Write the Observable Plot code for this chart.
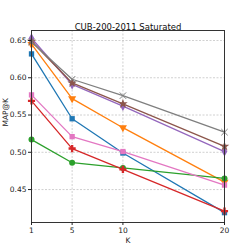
<!DOCTYPE html>
<html>
<head>
<meta charset="utf-8">
<script src="https://cdn.jsdelivr.net/npm/d3@7"></script>
<script src="https://cdn.jsdelivr.net/npm/@observablehq/plot@0.6"></script>
<style>
  html, body { margin: 0; padding: 0; background: #fff; }
  svg { font-family: "DejaVu Sans", sans-serif; }
</style>
</head>
<body>
<div id="chart"></div>
<script>
const title = "CUB-200-2011 Saturated";
const xLabel = "K";
const yLabel = "MAP@K";
const K = [1, 5, 10, 20];
const xTicks = [1, 5, 10, 20];
const yTicks = [0.45, 0.50, 0.55, 0.60, 0.65];

const seriesNames = ["blue", "orange", "green", "red", "purple", "brown", "pink", "gray"];
const blue   = [0.632, 0.545, 0.499, 0.419];
const orange = [0.645, 0.572, 0.533, 0.460];
const green  = [0.517, 0.486, 0.479, 0.465];
const red    = [0.569, 0.505, 0.477, 0.421];
const purple = [0.653, 0.591, 0.562, 0.501];
const brown  = [0.649, 0.593, 0.565, 0.508];
const pink   = [0.577, 0.521, 0.501, 0.456];
const gray   = [0.648, 0.598, 0.576, 0.527];
const seriesValues = [blue, orange, green, red, purple, brown, pink, gray];
const colors = ["#1f77b4", "#ff7f0e", "#2ca02c", "#d62728", "#9467bd", "#8c564b", "#e377c2", "#7f7f7f"];

const triangleDown = {
  draw(context, size) {
    const y = -Math.sqrt(size / (Math.sqrt(3) * 3));
    context.moveTo(0, -y * 2);
    context.lineTo(-Math.sqrt(3) * y, y);
    context.lineTo(Math.sqrt(3) * y, y);
    context.closePath();
  }
};
const symbols = [d3.symbolSquare, triangleDown, d3.symbolCircle, d3.symbolCross, d3.symbolDiamond, d3.symbolStar, d3.symbolSquare, d3.symbolTimes];

const rows = [];
seriesNames.forEach((name, i) => {
  K.forEach((k, j) => rows.push({series: name, idx: i, k, v: seriesValues[i][j]}));
});

const marks = [
  Plot.gridX(xTicks, {stroke: "#bbb", strokeOpacity: 1, strokeDasharray: "2,1.5", strokeWidth: 0.7}),
  Plot.gridY(yTicks, {stroke: "#bbb", strokeOpacity: 1, strokeDasharray: "2,1.5", strokeWidth: 0.7}),
];
seriesNames.forEach((name, i) => {
  const d = rows.filter(r => r.idx === i);
  marks.push(Plot.line(d, {x: "k", y: "v", stroke: colors[i], strokeWidth: 1.3}));
  const sym = symbols[i];
  const isTimes = sym === d3.symbolTimes;
  marks.push(Plot.dot(d, {
    x: "k", y: "v", symbol: () => sym, r: 3,
    fill: isTimes ? "none" : colors[i],
    stroke: isTimes ? colors[i] : "none",
    strokeWidth: isTimes ? 1 : 0
  }));
});
marks.push(
  Plot.frame({stroke: "#333", strokeWidth: 1}),
  Plot.axisX(xTicks, {tickSize: 3, tickPadding: 2, fontSize: 7.5, color: "#222", tickFormat: d => String(d), label: null}),
  Plot.axisY(yTicks, {tickSize: 3, tickPadding: 2, fontSize: 7.5, color: "#222", tickFormat: d3.format(".2f"), label: null}),
  Plot.text([xLabel], {frameAnchor: "bottom", dy: 20, fontSize: 7.5, fill: "#222"}),
  Plot.text([yLabel], {frameAnchor: "left", dx: -26, rotate: -90, fontSize: 7.5, fill: "#222"}),
  Plot.text([title], {frameAnchor: "top", dy: -7, fontSize: 8.5, fill: "#111"})
);

const chart = Plot.plot({
  width: 249,
  height: 249,
  marginLeft: 31,
  marginRight: 25,
  marginTop: 30,
  marginBottom: 27,
  x: {type: "linear", domain: [1, 20]},
  y: {type: "linear", domain: [0.4058, 0.6634]},
  symbol: {type: "identity"},
  marks
});
document.getElementById("chart").appendChild(chart);
</script>
</body>
</html>
